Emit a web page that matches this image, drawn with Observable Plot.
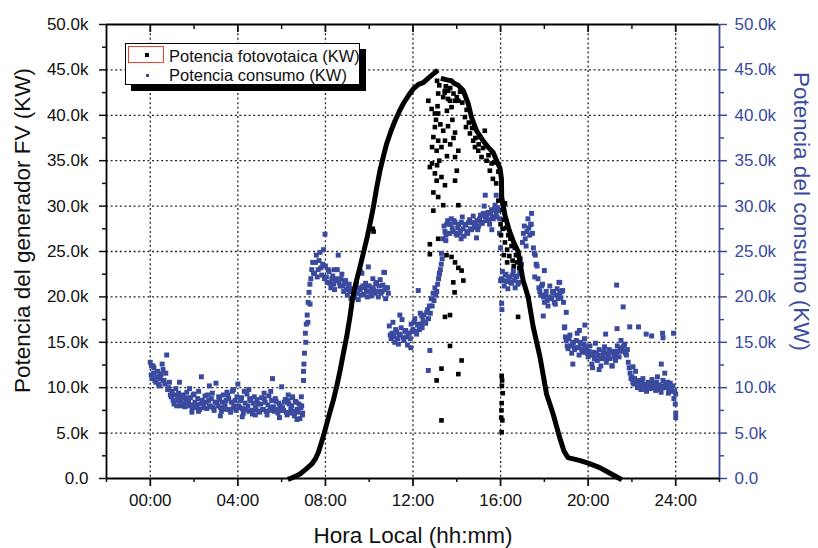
<!DOCTYPE html>
<html>
<head>
<meta charset="utf-8">
<script src="https://cdn.jsdelivr.net/npm/d3@7"></script>
<script src="https://cdn.jsdelivr.net/npm/@observablehq/plot@0.6"></script>
<style>
  html, body { margin: 0; padding: 0; background: #fff; }
  #wrap { position: relative; width: 818px; height: 548px; font-family: "Liberation Sans", Arial, sans-serif; }
  #legend { position: absolute; left: 125px; top: 43px; width: 233px; height: 40px; border: 1px solid #000; background: #fff; box-shadow: 6px 6px 0 #000; }
  #legend .sw { position: absolute; }
  #legend .lbl { position: absolute; font-size: 16.5px; line-height: 16px; color: #111; white-space: nowrap; }
</style>
</head>
<body>
<div id="wrap">
  <div id="chart"></div>
  <div id="legend"></div>
</div>
<script>
// ---------------- data (values in thousands, "k") ----------------
const xMajorTicks = [0, 4, 8, 12, 16, 20, 24];
const xTickLabels = ["00:00", "04:00", "08:00", "12:00", "16:00", "20:00", "24:00"];
const xMinorTicks = [-2, 2, 6, 10, 14, 18, 22, 26];
const yMajorTicks = [0, 5, 10, 15, 20, 25, 30, 35, 40, 45, 50];
const yMinorTicks = [2.5, 7.5, 12.5, 17.5, 22.5, 27.5, 32.5, 37.5, 42.5, 47.5];
const xDomain = [-2, 26];
const yDomain = [0, 50];

const seriesNames = ["Potencia fotovotaica (KW)", "Potencia consumo (KW)"];
const axisTitles = ["Potencia del generador FV (KW)", "Potencia del consumo (KW)", "Hora Local (hh:mm)"];

// consumption sampled every 5 minutes from 00:00 to 24:00
const consStartHour = 0;
const consStepMinutes = 5;
const consKW = [
  12.8, 11.0, 12.2, 10.6, 11.8, 10.2, 11.5, 12.0, 10.4, 13.6, 10.0, 9.2,
  9.6, 8.2, 9.9, 8.6, 10.6, 8.0, 9.2, 7.9, 9.5, 8.4, 8.9, 7.8,
  9.3, 8.1, 8.8, 7.6, 11.2, 8.3, 9.1, 7.7, 8.6, 7.9, 9.4, 7.5,
  10.5, 8.0, 8.7, 7.4, 9.2, 8.1, 7.6, 8.8, 7.3, 9.6, 8.0, 7.5,
  10.4, 7.8, 8.9, 7.2, 8.3, 9.3, 7.4, 8.6, 7.1, 9.0, 7.6, 8.2,
  7.3, 8.9, 7.6, 8.4, 7.0, 9.1, 7.8, 11.0, 7.4, 8.5, 7.2, 8.0,
  10.1, 7.5, 8.7, 7.0, 8.2, 7.6, 9.0, 6.9, 8.4, 7.3, 6.6, 8.0,
  11.8, 16.0, 18.0, 20.5, 22.0, 23.8, 22.6, 24.6, 23.0, 24.9, 22.4, 25.2,
  23.4, 21.6, 22.8, 21.0, 22.3, 20.8, 22.0, 24.6, 21.2, 22.5, 20.6, 21.8,
  20.2, 21.4, 19.8, 20.9, 20.0, 21.6, 19.7, 20.8, 22.6, 20.3, 21.5, 20.0,
  21.2, 20.1, 22.0, 20.4, 21.6, 20.0, 21.9, 20.6, 22.7, 19.8, 21.0, 16.8,
  15.4, 17.2, 15.0, 16.1, 14.8, 15.8, 17.5, 15.2, 16.3, 14.7, 16.0, 17.0,
  16.4, 17.6, 15.9, 17.0, 18.2, 16.6, 18.0, 17.1, 18.6, 19.0, 19.8, 20.4,
  21.0, 20.6, 22.0, 23.0, 24.2, 27.8, 26.8, 28.4, 27.0, 28.6, 27.2, 28.2,
  26.8, 28.0, 27.3, 28.8, 26.7, 27.9, 27.0, 28.5, 27.4, 28.9, 27.6, 28.4,
  27.8, 29.0, 28.1, 30.0, 28.4, 29.3, 28.0, 29.6, 28.6, 30.1, 28.8, 29.5,
  21.8, 22.8, 21.2, 22.5, 20.9, 22.2, 21.5, 22.9, 21.0, 22.3, 21.6, 22.6,
  26.0, 27.8, 25.6, 28.6, 26.8, 29.2, 25.4, 24.6, 23.4, 21.0, 20.2, 21.4,
  19.4, 20.6, 19.0, 21.2, 19.8, 20.4, 19.2, 20.9, 21.6, 19.9, 20.7, 16.6,
  15.2, 14.3, 15.8, 13.8, 15.0, 14.4, 16.0, 13.6, 14.8, 13.9, 15.4, 14.1,
  13.4, 14.6, 12.6, 13.9, 14.9, 13.0, 14.2, 12.4, 13.6, 14.5, 12.8, 13.5,
  13.2, 12.4, 14.0, 13.0, 14.6, 13.4, 15.2, 14.0, 14.8, 13.6, 12.8, 11.6,
  11.2, 10.4, 11.8, 10.0, 10.8, 9.8, 11.0, 10.2, 9.6, 10.6, 9.9, 10.9,
  10.1, 9.7, 11.2, 10.3, 9.5, 10.8, 11.6, 10.0, 9.4, 10.5, 9.6, 8.8,
  7.2
];
// second set of consumption readings, 2.5 minutes after each of the above
const consOffsetMinutes = 2.5;
const consKWb = [
  11.4, 12.4, 10.8, 11.2, 10.4, 11.0, 12.6, 10.8, 11.6, 9.8, 10.6, 9.0,
  8.6, 9.2, 8.0, 9.4, 8.5, 9.0, 8.3, 8.8, 8.0, 9.9, 8.1, 9.2,
  8.4, 7.8, 9.6, 8.2, 8.6, 7.8, 8.4, 9.2, 8.0, 8.8, 7.8, 8.4,
  8.4, 9.0, 7.8, 8.4, 7.7, 8.6, 9.2, 7.6, 8.4, 7.8, 8.6, 9.0,
  8.0, 8.6, 7.7, 9.6, 7.6, 8.0, 8.8, 7.5, 8.3, 7.8, 8.7, 7.4,
  8.2, 7.6, 8.8, 7.4, 8.1, 7.5, 8.6, 7.9, 8.8, 7.6, 8.3, 7.5,
  7.8, 8.4, 7.3, 8.6, 7.2, 8.0, 7.4, 8.5, 7.6, 8.2, 7.8, 7.2,
  13.8, 17.0, 19.4, 21.4, 23.0, 22.6, 23.8, 22.2, 24.0, 23.2, 23.6, 22.0,
  22.2, 23.0, 21.5, 22.0, 21.4, 21.8, 23.0, 21.6, 22.0, 21.2, 21.5, 20.8,
  21.0, 20.6, 20.8, 19.9, 21.2, 20.4, 21.0, 20.2, 21.2, 21.0, 20.6, 21.2,
  20.6, 21.0, 20.8, 21.4, 20.6, 21.2, 20.4, 21.3, 20.8, 21.0, 20.4, 15.8,
  16.0, 15.6, 16.4, 15.4, 15.9, 16.6, 15.5, 16.2, 15.6, 16.0, 15.4, 16.2,
  17.2, 16.2, 16.9, 16.4, 17.0, 17.4, 17.2, 18.3, 17.6, 18.2, 19.0, 19.6,
  20.2, 21.4, 22.6, 23.6, 26.4, 27.2, 28.0, 27.0, 28.0, 27.6, 28.4, 27.0,
  27.6, 27.0, 28.2, 27.5, 28.0, 27.2, 28.2, 27.5, 28.2, 27.8, 28.0, 27.4,
  28.6, 28.2, 29.2, 28.8, 29.0, 28.5, 29.2, 28.8, 29.6, 29.2, 29.8, 28.6,
  22.0, 21.8, 22.4, 21.7, 22.0, 21.6, 22.4, 21.8, 22.2, 21.4, 22.8, 23.6,
  27.0, 26.4, 27.2, 27.6, 28.0, 27.0, 24.8, 23.6, 22.0, 20.6, 21.2, 20.0,
  20.2, 19.6, 20.0, 19.8, 20.6, 19.4, 20.2, 19.8, 20.4, 20.6, 19.4, 15.6,
  14.6, 15.4, 14.6, 14.9, 14.2, 15.2, 14.4, 15.0, 14.2, 14.8, 14.6, 13.8,
  14.0, 13.6, 13.6, 13.2, 13.8, 13.6, 13.2, 13.2, 14.0, 13.2, 13.8, 14.2,
  14.0, 13.8, 13.4, 13.8, 14.0, 14.2, 14.4, 14.6, 13.8, 14.2, 12.2, 11.0,
  10.6, 11.0, 10.6, 10.4, 10.2, 10.6, 10.4, 9.8, 10.2, 10.0, 10.4, 10.0,
  10.4, 10.6, 10.0, 9.8, 10.2, 10.0, 10.4, 10.6, 9.9, 10.0, 10.2, 9.6
];

// extra consumption readings (same series, off the regular grid)
const consExtraHour = [0.05, 0.15, 0.4, 0.6, 1.25, 1.6, 2.2, 3.5, 4.5, 5.2, 6.5, 6.9, 6.95, 7.0, 7.02, 7.1, 7.2, 7.3,
  7.98, 8.4, 9.6, 9.96, 10.7, 12.24, 12.7, 12.77, 13.2, 13.3, 13.5, 14.2, 14.9, 15.6, 15.3, 15.8, 15.95, 16.0,
  16.05, 16.06, 17.4, 17.56, 17.95, 18.0, 18.7, 19.0, 18.93, 19.85, 20.5, 21.3, 21.6, 21.32, 21.9, 22.3,
  22.65, 22.9, 23.4, 23.9, 23.42, 23.34, 22.05, 24.0, 23.98, 24.0,
  1.9, 2.7, 3.2, 3.8, 4.2, 4.8, 5.5, 5.9, 6.3, 6.7, 19.3, 19.6, 20.2, 20.8, 21.1, 11.4, 11.9, 12.4];
const consExtraKW = [12.4, 11.6, 11.2, 10.8, 9.1, 8.9, 7.4, 9.5, 9.8, 9.4, 8.9, 9.0, 7.0, 10.8, 12.6, 15.0, 17.2, 19.2,
  26.9, 23.0, 22.8, 23.3, 22.7, 20.7, 11.9, 14.1, 22.5, 24.8, 26.2, 26.4, 26.5, 27.4, 31.2, 31.2, 27.0, 25.4,
  19.3, 18.6, 28.0, 22.2, 17.9, 22.9, 21.6, 18.3, 16.7, 16.9, 12.0, 21.3, 18.9, 16.5, 16.7, 16.7,
  15.9, 15.7, 16.0, 16.0, 15.5, 12.6, 12.3, 9.3, 8.2, 6.7,
  7.3, 10.2, 6.9, 9.8, 6.8, 7.0, 9.6, 6.7, 9.2, 6.5, 12.6, 16.3, 12.2, 15.9, 12.4, 18.0, 14.4, 17.9];

// photovoltaic main curve (null = break in the curve)
const pvHour = [6.39, 6.6, 6.84, 7.1, 7.38, 7.55, 7.68, 7.85, 7.98, 8.17, 8.36, 8.52, 8.67, 8.82, 8.97, 9.12, 9.25,
  9.42, 9.58, 9.75, 9.91, 10.05, 10.19, 10.34, 10.49, 10.65, 10.8, 11.0, 11.18, 11.37, 11.56, 11.8, 12.01, 12.25,
  12.47, 12.7, 12.9, 13.05, 13.2, 13.38, 13.55, 13.76, 13.9, 14.07, 14.3, 14.52, 14.67, 14.9, 15.2, 15.43, 15.66,
  15.82, 15.97, 16.04, 16.05, 16.2, 16.4, 16.6, 16.8, 17.03, 17.26, 17.49, 17.8, 18.1, 18.4, 18.7, 18.9, 19.08,
  19.6, 20.0, 20.53, 20.98, 21.44];
const pvKW = [0, 0.2, 0.5, 1.0, 1.6, 2.2, 2.9, 4.2, 5.3, 7.0, 8.6, 10.2, 11.9, 13.8, 15.6, 17.8, 20.0,
  21.8, 23.3, 25.0, 26.6, 28.2, 29.9, 32.0, 33.9, 35.5, 36.9, 38.3, 39.4, 40.4, 41.3, 42.2, 42.9, 43.4,
  43.6, 44.1, 44.5, 44.8, null, 44.0, 43.9, 43.8, 43.5, 43.3, 42.7, 41.3, 39.8, 38.3, 37.2, 36.5, 35.9,
  35.0, 34.2, 33.0, 31.0, 29.0, 27.3, 26.0, 25.0, 21.8, 20.0, 16.7, 13.4, 9.3, 7.1, 4.5, 3.0, 2.3,
  2.0, 1.7, 1.2, 0.6, 0.0];

// photovoltaic scattered readings (clouds)
const pvScatterHour = [12.7, 12.85, 13.15, 13.0, 12.93, 13.15, 13.3, 12.87, 13.08, 13.38, 13.46, 13.2, 12.87, 13.0, 13.08,
  13.46, 13.15, 12.77, 13.92, 13.92, 14.0, 13.92, 14.07, 13.61, 13.69, 13.92, 14.07, 13.76, 13.38, 13.46, 13.15, 13.2,
  13.0, 13.1, 13.12, 13.05, 13.25, 13.55, 13.8, 13.6, 13.7, 13.85, 13.1, 13.3, 13.55,
  13.45, 13.5, 13.6, 13.7, 13.85, 14.0, 14.15, 14.25, 14.37, 14.42, 14.45, 14.6, 14.75, 14.83, 14.98, 15.13, 15.36,
  15.59, 15.28, 15.51, 15.05, 15.2, 15.45, 15.7, 15.9, 14.55, 14.7, 14.85, 15.0, 15.9, 16.04, 16.2, 16.1, 15.8, 15.65,
  12.93, 13.38, 14.07, 12.93, 13.15, 12.77, 12.77, 13.53, 13.76, 13.92, 14.07, 14.22, 13.84, 14.3, 13.9, 13.69, 13.46,
  13.69, 14.22, 13.3, 14.07, 13.08, 13.3, 16.8, 10.16, 10.2,
  16.05, 16.07, 16.1, 16.05, 16.03, 16.08, 16.05, 16.06, 16.04,
  16.1, 16.15, 16.2, 16.3, 16.35, 16.4, 16.5, 16.55, 16.6, 16.7, 16.75, 16.85, 16.9, 16.45, 16.65, 16.3, 16.25, 16.15,
  16.0, 16.02];
const pvScatterKW = [41.6, 40.7, 40.2, 38.7, 37.6, 37.2, 36.5, 36.5, 36.1, 38.3, 37.2, 35.0, 34.7, 33.6, 32.8,
  32.3, 31.0, 34.3, 38.1, 35.4, 33.9, 32.8, 36.1, 42.7, 41.6, 41.6, 41.6, 40.9, 42.0, 42.7, 42.4, 43.3,
  40.2, 43.8, 41.0, 39.5, 39.0, 40.5, 39.5, 38.8, 36.8, 37.5, 34.5, 33.2, 35.5,
  42.5, 43.2, 41.8, 43.0, 42.4, 42.0, 42.6, 41.4, 39.8, 38.7, 40.6, 38.0, 37.2, 36.5, 36.1, 35.4, 35.0,
  34.7, 38.3, 33.9, 37.6, 36.4, 35.6, 34.8, 33.8, 39.2, 38.6, 37.5, 36.8, 30.6, 31.0, 30.3, 29.6, 32.5, 33.0,
  31.5, 30.1, 30.1, 29.5, 26.4, 25.8, 24.7, 24.6, 24.4, 23.8, 23.2, 22.9, 21.6, 21.8, 20.5, 18.0, 17.8,
  14.6, 13.0, 12.1, 11.5, 10.8, 6.4, 17.8, 27.5, 27.2,
  11.3, 10.8, 9.4, 8.3, 6.7, 6.4, 5.1, 10.2, 7.5,
  27.5, 28.5, 26.0, 25.2, 26.8, 24.5, 25.6, 24.0, 23.4, 24.6, 23.8, 23.2, 24.2, 26.4, 25.4, 23.8, 27.6, 24.6,
  28.0, 26.8];

// ---------------- build tables ----------------
const consRows = consKW.map((v, i) => ({hour: consStartHour + i * consStepMinutes / 60, kw: v}))
  .concat(consKWb.map((v, i) => ({hour: consStartHour + (i * consStepMinutes + consOffsetMinutes) / 60, kw: v})))
  .concat(consExtraHour.map((h, i) => ({hour: h, kw: consExtraKW[i]})));
const pvRows = pvHour.map((h, i) => ({hour: h, kw: pvKW[i]}));
const pvScatterRows = pvScatterHour.map((h, i) => ({hour: h, kw: pvScatterKW[i]}));

const blue = "#3a4a9e";
const fmtK = d => d === 0 ? "0.0" : d.toFixed(1) + "k";
const fmtH = d => xTickLabels[xMajorTicks.indexOf(d)];
const none = () => "";

const chart = Plot.plot({
  width: 818,
  height: 548,
  marginLeft: 106,
  marginRight: 99,
  marginTop: 24,
  marginBottom: 70,
  x: {domain: xDomain},
  y: {domain: yDomain},
  style: {fontFamily: "'Liberation Sans', Arial, sans-serif", fontSize: "17px", background: "#fff", color: "#111"},
  marks: [
    Plot.gridX(xMajorTicks, {stroke: "#000", strokeOpacity: 0.85, strokeWidth: 1.3, strokeDasharray: "2,2.6"}),
    Plot.gridY(yMajorTicks.slice(1, -1), {stroke: "#000", strokeOpacity: 0.85, strokeWidth: 1.3, strokeDasharray: "2,2.6"}),

    Plot.dot(consRows, {x: "hour", y: "kw", symbol: "square", r: 2.8, fill: blue, stroke: "none"}),
    Plot.line(pvRows, {x: "hour", y: "kw", stroke: "#000", strokeWidth: 5, strokeLinejoin: "round", strokeLinecap: "square"}),
    Plot.dot(pvScatterRows, {x: "hour", y: "kw", symbol: "square", r: 2.6, fill: "#000", stroke: "none"}),

    // frame
    Plot.ruleX([xDomain[0]], {stroke: "#000", strokeWidth: 1.8}),
    Plot.ruleY([yDomain[0], yDomain[1]], {stroke: "#000", strokeWidth: 1.8}),
    Plot.ruleX([xDomain[1]], {stroke: blue, strokeWidth: 1.8}),

    // left axis
    Plot.axisY(yMajorTicks, {anchor: "left", tickSize: 7, tickPadding: 11, tickFormat: fmtK, label: null, fontSize: 17, strokeWidth: 1.5, color: "#111"}),
    Plot.axisY(yMinorTicks, {anchor: "left", tickSize: 4, tickFormat: none, label: null, strokeWidth: 1.5, color: "#111"}),
    // right axis (blue)
    Plot.axisY(yMajorTicks, {anchor: "right", tickSize: 7, tickPadding: 8, tickFormat: fmtK, label: null, fontSize: 17, strokeWidth: 1.5, color: blue}),
    Plot.axisY(yMinorTicks, {anchor: "right", tickSize: 4, tickFormat: none, label: null, strokeWidth: 1.5, color: blue}),
    // bottom axis
    Plot.axisX(xMajorTicks, {anchor: "bottom", tickSize: 8, tickPadding: 7, tickFormat: fmtH, label: null, fontSize: 17, strokeWidth: 1.8, color: "#111"}),
    Plot.axisX(xMinorTicks, {anchor: "bottom", tickSize: 4, tickFormat: none, label: null, strokeWidth: 1.5, color: "#111"}),
    // top axis (inward ticks)
    Plot.axisX(xMajorTicks, {anchor: "top", tickSize: 7, dy: 7, tickFormat: none, label: null, strokeWidth: 1.8, color: "#111"}),
    Plot.axisX(xMinorTicks.slice(1, -1), {anchor: "top", tickSize: 4, dy: 4, tickFormat: none, label: null, strokeWidth: 1.5, color: "#111"}),

    // axis titles
    Plot.text([axisTitles[0]], {frameAnchor: "left", textAnchor: "middle", dx: -84, dy: -21, rotate: -90, fontSize: 22.5, fill: "#111"}),
    Plot.text([axisTitles[1]], {frameAnchor: "right", textAnchor: "middle", dx: 82, dy: -40, rotate: 90, fontSize: 22.5, fill: blue}),
    Plot.text([axisTitles[2]], {frameAnchor: "bottom", dy: 64, fontSize: 22.5, fill: "#111"})
  ]
});
document.getElementById("chart").appendChild(chart);

// legend (HTML overlay)
const legend = document.getElementById("legend");
legend.innerHTML = `
  <div class="sw" style="left:2px;top:2px;width:36px;height:17px;border:1px solid #e8452c;box-sizing:border-box;"></div>
  <div class="sw" style="left:19px;top:9px;width:4px;height:4px;background:#000;"></div>
  <div class="lbl" style="left:43px;top:4px;">${seriesNames[0]}</div>
  <div class="sw" style="left:20px;top:30px;width:3px;height:3px;background:${blue};"></div>
  <div class="lbl" style="left:43px;top:23px;">${seriesNames[1]}</div>
`;
</script>
</body>
</html>
